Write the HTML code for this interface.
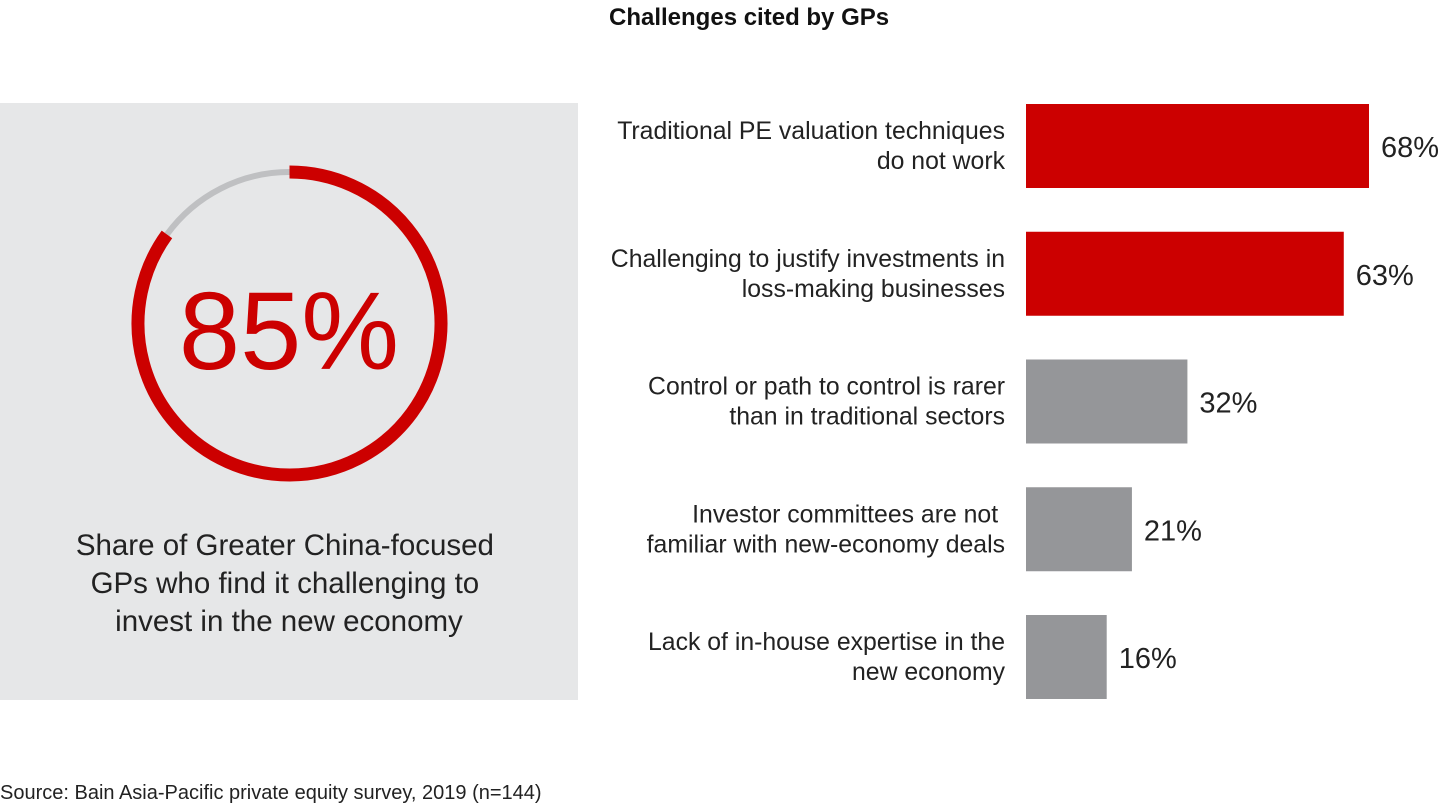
<!DOCTYPE html>
<html><head><meta charset="utf-8"><style>
body{margin:0;width:1440px;height:810px;background:#fff;font-family:"Liberation Sans",sans-serif;overflow:hidden;position:relative}
</style></head><body>
<svg width="1440" height="810" style="position:absolute;left:0;top:0">
<rect x="0" y="103" width="578" height="597" fill="#e6e7e8"/>
<g id="ring"></g>
<text x="289" y="369" text-anchor="middle" font-size="110" fill="#cc0000">85%</text>
<text text-anchor="middle" font-size="29.5" fill="#222">
<tspan x="289" y="555">Share of Greater China-focused</tspan>
<tspan x="289" y="593">GPs who find it challenging to</tspan>
<tspan x="289" y="631">invest in the new economy</tspan></text>
<text x="609" y="25" font-size="24" font-weight="bold" fill="#111">Challenges cited by GPs</text>
<g id="bars"></g>
<text x="0" y="799" font-size="20" fill="#222">Source: Bain Asia-Pacific private equity survey, 2019 (n=144)</text>
</svg>
<script>
const share = 85;
const categories = [["Traditional PE valuation techniques","do not work"],["Challenging to justify investments in","loss-making businesses"],["Control or path to control is rarer","than in traditional sectors"],["Investor committees are not ","familiar with new-economy deals"],["Lack of in-house expertise in the","new economy"]];
const values = [68,63,32,21,16];
const highlight = [true,true,false,false,false];
const NS="http://www.w3.org/2000/svg";
function mk(t,a,p){const e=document.createElementNS(NS,t);for(const k in a)e.setAttribute(k,a[k]);p.appendChild(e);return e;}
const ring=document.getElementById('ring');
const cx=289.5,cy=323.5,r=151.5;
function pt(f){const a=f*2*Math.PI;return [cx+r*Math.sin(a),cy-r*Math.cos(a)];}
function arc(f0,f1){const p0=pt(f0),p1=pt(f1);const large=(f1-f0)>0.5?1:0;return `M${p0[0]} ${p0[1]} A${r} ${r} 0 ${large} 1 ${p1[0]} ${p1[1]}`;}
const g=mk('path',{d:arc(share/100,0.99999),fill:'none',stroke:'#bfc0c2','stroke-width':6},ring);


const rd=mk('path',{d:arc(0,share/100),fill:'none',stroke:'#cc0000','stroke-width':13},ring);


const bars=document.getElementById('bars');
const x0=1026,pxPer=343/68,top0=104,pitch=127.75,bh=84;
values.forEach((v,i)=>{
 const y=top0+i*pitch;
 const b=mk('rect',{x:x0,y:y,width:v*pxPer,height:bh,fill:highlight[i]?'#cc0000':'#959699'},bars);
 
 
 const t=mk('text',{x:x0+v*pxPer+12,y:y+bh/2+11,'font-size':29,fill:'#222'},bars);
 t.textContent=v+'%';
 
 
 const l=mk('text',{'text-anchor':'end','font-size':24.8,fill:'#222'},bars);
 
 
 categories[i].forEach((s,j)=>{const ts=mk('tspan',{x:1005,y:y+35+j*30},l);ts.textContent=s;});
});
</script>
</body></html>
